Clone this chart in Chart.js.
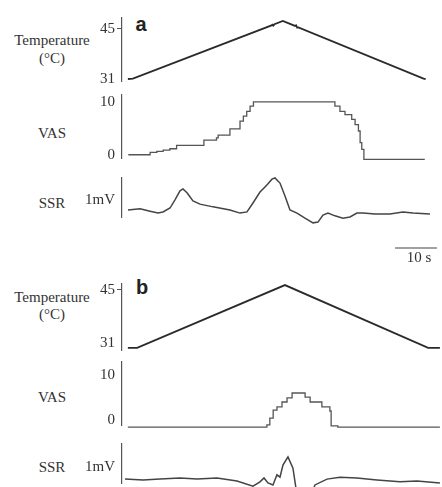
<!DOCTYPE html>
<html>
<head>
<meta charset="utf-8">
<script src="https://cdn.jsdelivr.net/npm/chart.js@4.4.0/dist/chart.umd.min.js"></script>
<style>
  html, body { margin: 0; padding: 0; background: #fff; }
  body { width: 442px; height: 487px; position: relative; overflow: hidden; }
  canvas { position: absolute; left: 0; }
  .lbl { position: absolute; transform: translate(-50%, -50%); font-family: "Liberation Serif", "Times New Roman", serif;
         font-size: 15px; color: #333; line-height: 1; white-space: nowrap; }
  .pan { font-family: "Liberation Sans", sans-serif; font-weight: bold; font-size: 20px; color: #222; }
</style>
</head>
<body>
<div class="lbl" style="left:52px;top:40px">Temperature</div>
<div class="lbl" style="left:52px;top:58px">(°C)</div>
<div class="lbl" style="left:52px;top:133px">VAS</div>
<div class="lbl" style="left:52px;top:203px">SSR</div>
<div class="lbl pan" style="left:141px;top:24px">a</div>

<div class="lbl" style="left:52px;top:297px">Temperature</div>
<div class="lbl" style="left:52px;top:314px">(°C)</div>
<div class="lbl" style="left:52px;top:397px">VAS</div>
<div class="lbl" style="left:52px;top:467px">SSR</div>
<div class="lbl pan" style="left:142px;top:287px">b</div>

<canvas id="tempA"></canvas>
<canvas id="vasA"></canvas>
<canvas id="ssrA"></canvas>
<canvas id="tempB"></canvas>
<canvas id="vasB"></canvas>
<canvas id="ssrB"></canvas>

<script>
// time in seconds for every trace
const X_MAX = 76.2;
const AXIS_X = 122;
const Y_AXIS_W = 40;

// panel a
const tempATime = [1.4, 2.6, 35.6, 35.8, 36.0, 36.3, 38.3, 41.2, 41.45, 41.7, 42.0, 71.8, 72.3];
const tempAValue = [31.0, 31.1, 46.0, 46.2, 45.95, 46.32, 47.24, 45.86, 46.05, 45.4, 45.46, 31.1, 31.0];

const vasATime = [1.5, 6.7, 8.3, 9.8, 11.4, 13.0, 19.5, 22.5, 22.9, 25.7, 28.1, 28.9, 29.7, 30.5, 31.3,
                  50.7, 51.9, 53.1, 54.7, 55.5, 56.3, 56.7, 57.1, 57.6, 72.1];
const vasAValue = [0, 0.44, 0.63, 0.88, 1.13, 1.76, 2.77, 3.2, 3.7, 4.9, 6.35, 7.3, 8.2, 9.2, 10,
                   9.2, 8.2, 7.6, 6.7, 5.7, 4.5, 2.3, 1.0, -0.88, -0.88];

const ssrATime = [1.43, 4.29, 6.67, 8.57, 9.76, 11.43, 12.62, 13.81, 14.52, 15.48, 16.9, 18.57, 21.67,
                  25.71, 28.1, 29.76, 31.19, 32.86, 34.05, 34.76, 35.71, 36.43, 37.62, 38.81, 40.0,
                  41.67, 43.57, 45.48, 46.67, 47.86, 49.05, 50.71, 52.62, 54.29, 55.95, 57.38, 60.24,
                  63.81, 66.9, 69.29, 73.33];
const ssrAValue = [0.18, 0.21, 0.15, 0.10, 0.13, 0.23, 0.44, 0.67, 0.72, 0.62, 0.41, 0.33, 0.26,
                   0.18, 0.10, 0.13, 0.36, 0.64, 0.77, 0.85, 0.97, 1.0, 0.87, 0.54, 0.18,
                   0.10, -0.03, -0.15, -0.13, 0.05, 0.10, 0.03, -0.03, 0.0, 0.10, 0.10, 0.08,
                   0.08, 0.13, 0.10, 0.08];

// panel b
const tempBTime = [1.4, 3.6, 38.8, 72.9, 75.7];
const tempBValue = [29.7, 29.7, 46.3, 29.7, 29.7];

const vasBTime = [1.4, 34.5, 35.2, 36.0, 36.9, 38.1, 39.3, 40.5, 43.6, 44.8, 47.6, 49.5, 49.8, 51.4, 75.7];
const vasBValue = [-1.6, -1.1, 0.4, 2.2, 2.9, 4.0, 4.9, 6.0, 5.1, 4.0, 2.9, 2.0, -1.3, -1.6, -1.6];

const ssrBTime = [0.71, 5.0, 9.05, 13.8, 17.86, 22.62, 27.38, 31.19, 32.86, 33.81, 34.76, 35.95, 36.9,
                  37.62, 38.33, 39.52, 40.71, 41.67, 43.1, 44.76, 45.95, 48.81, 51.9, 55.95, 60.71,
                  66.19, 70.24, 75.71];
const ssrBValue = [0.10, 0.08, 0.10, 0.13, 0.10, 0.13, 0.05, -0.08, 0.03, 0.13, 0.0, -0.05, 0.21,
                   0.15, 0.46, 0.67, 0.38, -0.31, -0.56, -0.38, -0.05, 0.10, 0.15, 0.13, 0.08,
                   0.03, 0.05, 0.0];

const tempTicks = [31, 45];
const tempTickLabels = ["31", "45"];
const vasTicks = [0, 10];
const vasTickLabels = ["0", "10"];
const ssrTickLabels = ["1mV"];

const SCALE_BAR_START = 65.0;
const SCALE_BAR_SECONDS = 10;

const scaleBar = {
  id: "scaleBar",
  afterDraw(chart) {
    const { ctx, chartArea } = chart;
    const x = chart.scales.x;
    const x0 = x.getPixelForValue(SCALE_BAR_START);
    const x1 = x.getPixelForValue(SCALE_BAR_START + SCALE_BAR_SECONDS);
    const y = chartArea.bottom + 31;
    ctx.save();
    ctx.strokeStyle = "#444";
    ctx.lineWidth = 1.2;
    ctx.beginPath();
    ctx.moveTo(x0, y);
    ctx.lineTo(x1, y);
    ctx.stroke();
    ctx.fillStyle = "#333";
    ctx.font = '15px "Liberation Serif"';
    ctx.textAlign = "center";
    ctx.textBaseline = "middle";
    ctx.fillText(SCALE_BAR_SECONDS + " s", (x0 + x1) / 2 + 3, y + 10);
    ctx.restore();
  }
};

function trace(id, top, bottom, time, values, o) {
  const padTop = o.padTop || 12;
  const padBottom = o.padBottom || 12;
  const cv = document.getElementById(id);
  cv.width = 442;
  cv.height = bottom - top + padTop + padBottom;
  cv.style.top = (top - padTop) + "px";

  return new Chart(cv, {
    type: "line",
    data: {
      datasets: [{
        data: time.map((t, i) => ({ x: t, y: values[i] })),
        borderColor: o.color,
        borderWidth: o.width,
        pointRadius: 0,
        tension: 0,
        stepped: o.stepped || false,
        clip: false
      }]
    },
    options: {
      responsive: false,
      animation: false,
      events: [],
      layout: { padding: { left: AXIS_X - Y_AXIS_W, right: 0, top: padTop, bottom: padBottom } },
      plugins: { legend: { display: false }, tooltip: { enabled: false } },
      scales: {
        x: { type: "linear", display: false, min: 0, max: X_MAX },
        y: {
          min: o.min,
          max: o.max,
          afterFit: (s) => { s.width = Y_AXIS_W; },
          afterBuildTicks: (s) => { s.ticks = o.ticks.map((value) => ({ value })); },
          grid: {
            drawOnChartArea: false,
            drawTicks: true,
            tickLength: 5,
            color: (c) => (o.dashAt !== undefined && c.tick && c.tick.value === o.dashAt) ? "#555" : "rgba(0,0,0,0)"
          },
          border: { color: "#555", width: 1.2 },
          ticks: {
            padding: 2,
            color: "#333",
            font: { family: "Liberation Serif", size: 15 },
            callback: (val, i) => o.labels[i]
          }
        }
      }
    },
    plugins: o.plugins || []
  });
}

trace("tempA", 18, 81, tempATime, tempAValue,
  { min: 30.44, max: 48.08, ticks: tempTicks, labels: tempTickLabels, dashAt: 45, color: "#2a2a2a", width: 1.8 });
trace("vasA", 95, 158, vasATime, vasAValue,
  { min: -0.62, max: 11.32, ticks: vasTicks, labels: vasTickLabels, color: "#555", width: 1.3, stepped: true });
trace("ssrA", 178, 217, ssrATime, ssrAValue,
  { min: 0, max: 1, ticks: [0.44], labels: ssrTickLabels, color: "#444", width: 1.5, padBottom: 52, plugins: [scaleBar] });

trace("tempB", 284, 350, tempBTime, tempBValue,
  { min: 29.15, max: 46.58, ticks: tempTicks, labels: tempTickLabels, dashAt: 45, color: "#2a2a2a", width: 1.8 });
trace("vasB", 362, 425, vasBTime, vasBValue,
  { min: -1.11, max: 12.89, ticks: vasTicks, labels: vasTickLabels, color: "#555", width: 1.3, stepped: true });
trace("ssrB", 444, 483, ssrBTime, ssrBValue,
  { min: 0, max: 1, ticks: [0.41], labels: ssrTickLabels, color: "#444", width: 1.5 });
</script>
</body>
</html>
